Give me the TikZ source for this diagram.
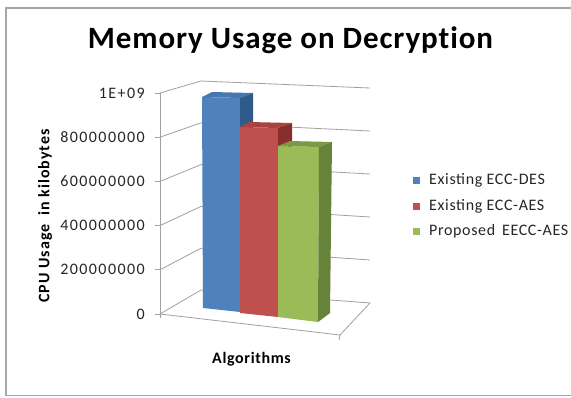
\documentclass[tikz,border=0pt]{standalone}
\usepackage{fontspec}
\setmainfont{Carlito}
\newfontfamily\titlefont[LetterSpace=3, Ligatures=NoCommon]{Carlito}
\newfontfamily\tickfont[LetterSpace=9]{Carlito}
\newfontfamily\legfont[LetterSpace=4]{Carlito}
\newfontfamily\axfont[LetterSpace=6]{Carlito}
\newfontfamily\xaxfont[LetterSpace=4]{Carlito}
\definecolor{gridgray}{HTML}{A0A0A0}
\definecolor{framegray}{HTML}{A6A6A6}
\definecolor{bluefront}{HTML}{4F81BD}
\definecolor{bluetop}{HTML}{4677B3}
\definecolor{blueside}{HTML}{30598C}
\definecolor{redfront}{HTML}{C0504D}
\definecolor{redtop}{HTML}{A8433F}
\definecolor{redside}{HTML}{8A2E2C}
\definecolor{greenfront}{HTML}{9BBB59}
\definecolor{greentop}{HTML}{7C9A41}
\definecolor{greenside}{HTML}{67833A}
\tikzset{
  grid line/.style={draw=gridgray, line width=0.8pt},
  ticklabel/.style={anchor=east, inner sep=0pt, font=\tickfont\fontsize{16}{18}\selectfont, text=black!85},
  legendtext/.style={anchor=west, inner sep=0pt, font=\legfont\fontsize{16}{18}\selectfont, text=black!85},
  axistitle/.style={inner sep=0pt, font=\axfont\fontsize{16}{18}\selectfont\bfseries},
  legendkey/.style={minimum size=7pt, inner sep=0pt, draw=none},
}
\begin{document}
\begin{tikzpicture}[x=1pt, y=-1pt]
\useasboundingbox (0,0) rectangle (571,397);
\fill[white] (0,0) rectangle (571,397);
% chart frame (right edge runs off the page)
\draw[framegray, line width=1.4pt] (580,8) -- (6,8) -- (6,395.5) -- (580,395.5);

% title
\node[font=\titlefont\fontsize{31}{34}\selectfont\bfseries, anchor=base, inner sep=0pt] (title) at (290.5,48) {Memory Usage on Decryption};

% walls: left wall and back wall gridlines
\foreach \k in {0,...,5} {
  \pgfmathsetmacro{\yf}{314-44.2*\k}
  \pgfmathsetmacro{\yl}{290-41.8*\k}
  \pgfmathsetmacro{\yr}{303-43*\k}
  \draw[grid line] (160,\yf) -- (201,\yl) -- (370,\yr);
  \draw[grid line] (155,\yf) -- (160,\yf);
}
% floor
\coordinate (FL) at (160,314);
\coordinate (FR) at (340,335);
\coordinate (BR) at (370,303);
\coordinate (BL) at (201,290);
\draw[grid line] (FL) -- (FR) -- (BR);
\draw[grid line] (FR) -- (339,340);
% value axis
\draw[grid line] (160,93) -- (160,318);

% tick labels
\foreach \k/\lab in {0/0, 1/200000000, 2/400000000, 3/600000000, 4/800000000, 5/1E+09} {
  \pgfmathsetmacro{\yf}{314-44.2*\k}
  \node[ticklabel] (tick\k) at (145,\yf) {\lab};
}

% bar 1: Existing ECC-DES
\fill[bluefront] (202,97) -- (240,98) -- (240,312) -- (203,308) -- cycle;
\fill[bluetop] (202,97) -- (212,92) -- (253,93) -- (240,98) -- cycle;
\fill[blueside] (240,98) -- (253,93) -- (253,308) -- (240,312) -- cycle;
% bar 2: Existing ECC-AES
\fill[redfront] (240,127) -- (278,128) -- (278,317) -- (240,313) -- cycle;
\fill[redtop] (240,127) -- (249,122) -- (292,123) -- (278,128) -- cycle;
\fill[redside] (278,128) -- (292,123) -- (292,312) -- (278,317) -- cycle;
% bar 3: Proposed EECC-AES
\fill[greenfront] (278,146) -- (319,147) -- (318,322) -- (278,317) -- cycle;
\fill[greentop] (278,146) -- (290,141) -- (332,142) -- (319,147) -- cycle;
\fill[greenside] (319,147) -- (332,142) -- (330,313) -- (318,322) -- cycle;

% axis titles
\node[axistitle, rotate=90] (ytitle) at (45,216) {CPU Usage \ in kilobytes};
\node[inner sep=0pt, font=\xaxfont\fontsize{16}{18}\selectfont\bfseries] (xtitle) at (251.5,359) {Algorithms};

% legend
\node[legendkey, fill=bluefront] (k1) at (416.5,180) {};
\node[legendkey, fill=redfront] (k2) at (416.5,206) {};
\node[legendkey, fill=greenfront] (k3) at (416.5,231) {};
\node[legendtext] (l1) at (429,180) {Existing ECC-DES};
\node[legendtext] (l2) at (429,206) {Existing ECC-AES};
\node[legendtext] (l3) at (429,231) {Proposed\, EECC-AES};
\end{tikzpicture}
\end{document}
